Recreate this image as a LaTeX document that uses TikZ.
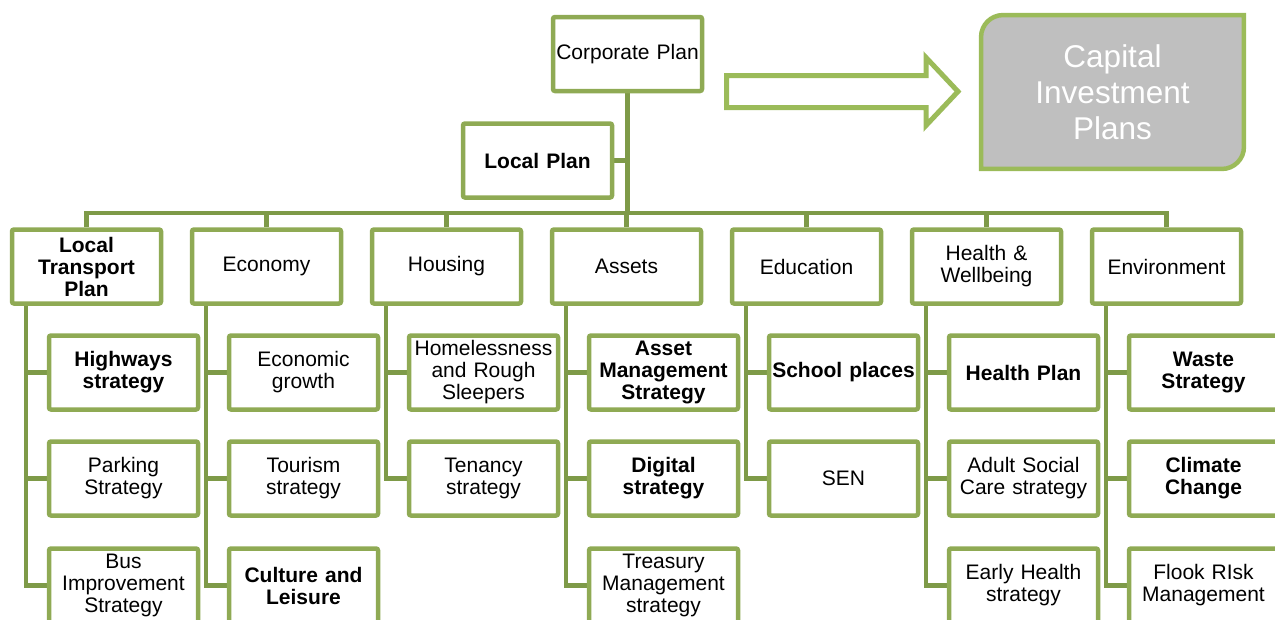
\documentclass[tikz,border=0pt]{standalone}
\usepackage{fontspec}
\setmainfont{Liberation Sans}
\usetikzlibrary{positioning, calc, backgrounds}
\definecolor{boxgreen}{HTML}{8FAA54}
\definecolor{linkgreen}{HTML}{7E9A48}
\definecolor{arrowgreen}{HTML}{9BBB59}
\definecolor{capgray}{HTML}{BFBFBF}
\tikzset{
    box/.style={draw=boxgreen, line width=4.5pt, rounded corners=2pt, fill=white,
        minimum width=149pt, minimum height=74pt, text width=146pt, inner sep=0pt,
        align=center, font=\fontsize{21}{22}\selectfont}, % plain plan box
    bbox/.style={box, font=\fontsize{21}{22}\selectfont\bfseries}, % bold plan box
    link/.style={draw=linkgreen, line width=4.5pt}, % tree lines
    hollow/.style={draw=arrowgreen, line width=5pt, fill=white}, % block arrow
    captext/.style={text=white, align=center, inner sep=0pt,
        minimum width=262.5pt, minimum height=153.5pt,
        font=\fontsize{31.5}{36}\selectfont},
    capbox/.style={draw=arrowgreen, line width=4.5pt, fill=capgray},
}

\begin{document}
\begin{tikzpicture}[x=1pt, y=1pt, on grid, node distance=106pt]
    \useasboundingbox (0,0) rectangle (1275,-619);
    \clip (0,0) rectangle (1275,-619);

    % Top
    \node[box] (corp) at (627.5,-54) {Corporate Plan};
    \node[bbox, below left=106.5pt and 90pt of corp] (local) {Local Plan};
    \node[captext] (cap) at (1112.5,-92) {Capital\\Investment\\Plans};
    \draw[hollow] (726.5,-75.5) -- (926,-75.5) -- (926,-57.5) -- (958,-91.5)
        -- (926,-125.5) -- (926,-107.5) -- (726.5,-107.5) -- cycle;

    % Themes
    \node[bbox] (ltp) at (86.5,-266.5) {Local\\Transport\\Plan};
    \node[box, right=180pt of ltp] (econ) {Economy};
    \node[box, right=180pt of econ] (hous) {Housing};
    \node[box, right=180pt of hous] (asset) {Assets};
    \node[box, right=180pt of asset] (edu) {Education};
    \node[box, right=180pt of edu] (health) {Health \&\\Wellbeing};
    \node[box, right=180pt of health] (env) {Environment};

    % Strategies
    \node[bbox, below right=106pt and 37pt of ltp] (high) {Highways\\strategy};
    \node[box, below=of high] (park) {Parking\\Strategy};
    \node[box, below=107pt of park] (bus) {Bus\\Improvement\\Strategy};

    \node[box, below right=106pt and 37pt of econ] (growth) {Economic\\growth};
    \node[box, below=of growth] (tour) {Tourism\\strategy};
    \node[bbox, below=107pt of tour] (cult) {Culture and\\Leisure};

    \node[box, below right=106pt and 37pt of hous] (home) {Homelessness\\and Rough\\Sleepers};
    \node[box, below=of home] (ten) {Tenancy\\strategy};

    \node[bbox, below right=106pt and 37pt of asset] (amgmt) {Asset\\Management\\Strategy};
    \node[bbox, below=of amgmt] (digi) {Digital\\strategy};
    \node[box, below=107pt of digi] (treas) {Treasury\\Management\\strategy};

    \node[bbox, below right=106pt and 37pt of edu] (school) {School places};
    \node[box, below=of school] (sen) {SEN};

    \node[bbox, below right=106pt and 37pt of health] (hplan) {Health Plan};
    \node[box, below=of hplan] (adult) {Adult Social\\Care strategy};
    \node[box, below=107pt of adult] (early) {Early Health\\strategy};

    \node[bbox, below right=106pt and 37pt of env] (waste) {Waste\\Strategy};
    \node[bbox, below=of waste] (clim) {Climate\\Change};
    \node[box, below=107pt of clim] (flood) {Flook RIsk\\Management};

    % Lines
    \begin{scope}[on background layer]
        \draw[capbox] ([yshift=-22pt]cap.north west) arc[start angle=180, end angle=90, radius=22pt]
            -- (cap.north east) -- ([yshift=22pt]cap.south east)
            arc[start angle=0, end angle=-90, radius=22pt] -- (cap.south west) -- cycle;
        \coordinate (bar) at (627.5,-213);
        \draw[link] (corp.south) -- (bar);
        \draw[link] (local.east) -- (local.east -| bar);
        \foreach \p in {ltp,econ,hous,asset,edu,health,env}
            \draw[link] (\p.north) |- (bar);
        \foreach \p/\c in {ltp/high, ltp/park, ltp/bus, econ/growth, econ/tour, econ/cult,
                hous/home, hous/ten, asset/amgmt, asset/digi, asset/treas,
                edu/school, edu/sen, health/hplan, health/adult, health/early,
                env/waste, env/clim, env/flood}
            \draw[link] ([xshift=16pt]\p.south west) |- (\c.west);
    \end{scope}
\end{tikzpicture}
\end{document}
